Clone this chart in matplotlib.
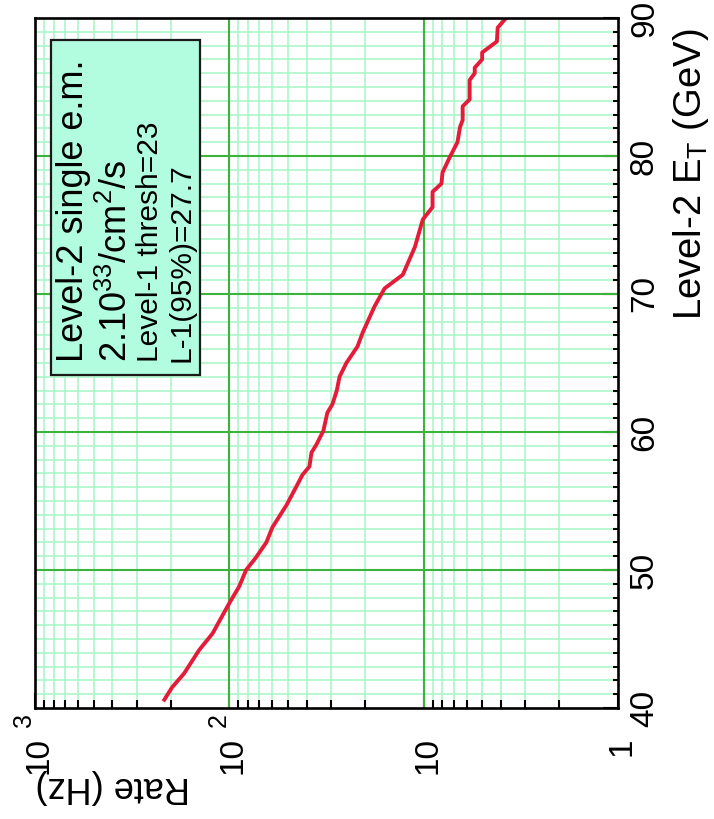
import numpy as np
import matplotlib
matplotlib.use('Agg')
import matplotlib.pyplot as plt
from matplotlib import transforms
from matplotlib.patches import Rectangle
from matplotlib.ticker import FixedLocator, LogLocator, MultipleLocator, NullFormatter

plt.rcParams['font.family'] = ['Liberation Sans', 'DejaVu Sans']
plt.rcParams['mathtext.fontset'] = 'custom'
plt.rcParams['mathtext.rm'] = 'Liberation Sans'
plt.rcParams['mathtext.it'] = 'Liberation Sans'
plt.rcParams['mathtext.default'] = 'regular'

# curve: Level-2 E_T (GeV) vs rate (Hz)
et = [40.6, 41.5, 42.5, 44.2, 45.4, 47.6, 48.8, 50.0, 50.9, 52.0, 53.1, 54.7,
      56.9, 57.5, 58.5, 59.1, 60.1, 61.4, 62.0, 63.0, 64.0, 65.0, 66.2, 67.2,
      69.1, 70.4, 71.4, 73.4, 75.4, 76.3, 77.4, 78.0, 78.8, 79.9, 81.0, 82.1,
      82.6, 83.6, 84.1, 85.5, 86.0, 86.4, 87.0, 87.5, 88.3, 89.3, 89.9]
rate = [216, 197, 171, 143, 122, 100, 89, 82, 73, 64.5, 60, 50.8,
        42, 38.7, 37.8, 35.6, 32.8, 31.3, 29.5, 28.0, 27.1, 25.0, 21.9, 20.6,
        17.9, 15.9, 12.8, 11.1, 10.1, 9.0, 9.0, 8.1, 8.0, 7.35, 6.7, 6.5,
        6.3, 6.3, 5.8, 5.8, 5.46, 5.46, 5.0, 5.0, 4.2, 4.16, 3.82]

rate_ticks = [1000, 100, 10, 1]
rate_mant = ['10', '10', '10', '1']
rate_exp = ['3', '2', '', '']
et_ticks = [40, 50, 60, 70, 80, 90]

box_lines = ['Level-2 single e.m.', '2.10$^{33}$/cm$^{2}$/s',
             'Level-1 thresh=23', 'L-1(95%)=27.7']
box_sizes = [26, 26, 21.5, 21.5]

W, H = 714, 819
fig = plt.figure(figsize=(W / 100, H / 100), dpi=100)
ax = fig.add_axes([35 / W, 1 - 708 / H, 583 / W, 690 / H])

ax.set_xscale('log')
ax.set_xlim(1000, 1)
ax.set_ylim(40, 90)
ax.xaxis.set_major_locator(FixedLocator(rate_ticks))
ax.xaxis.set_minor_locator(LogLocator(base=10, subs=range(2, 10)))
ax.xaxis.set_minor_formatter(NullFormatter())
ax.yaxis.set_major_locator(FixedLocator(et_ticks))
ax.yaxis.set_minor_locator(MultipleLocator(1))

ax.tick_params(which='both', direction='in', bottom=True, top=False,
               left=False, right=True, labelbottom=False, labelleft=False,
               labelright=False, width=1.5, color='k')
ax.tick_params(which='major', length=10.8)
ax.tick_params(axis='x', which='minor', length=5.5)
ax.tick_params(axis='y', which='minor', length=3.5)
for s in ax.spines.values():
    s.set_linewidth(1.9)
    s.set_zorder(6)

ax.set_axisbelow(True)
ax.grid(which='minor', color='#a6f5c6', lw=1.1)
for v in rate_ticks[1:-1]:
    ax.axvline(v, color='#3cb43c', lw=1.5, zorder=1.5)
for v in et_ticks[1:-1]:
    ax.axhline(v, color='#3cb43c', lw=1.5, zorder=1.5)

ax.plot(rate, et, color='#e41c3a', lw=2.8, zorder=3, solid_joinstyle='round')

# legend-like box
ax.add_patch(Rectangle((16 / 583, (708 - 375) / 690), 149 / 583, 335 / 690,
                       transform=ax.transAxes, fc='#b2fde0', ec='#1a1a1a',
                       lw=1.6, zorder=4))
base_x = [83, 127, 158, 190]
for txt, fs, bx in zip(box_lines, box_sizes, base_x):
    fig.text(bx / W, 1 - 362 / H, txt, rotation=90, rotation_mode='anchor',
             ha='left', va='baseline', fontsize=fs, zorder=7)

# rate tick labels (rotated)
tx = transforms.blended_transform_factory(ax.transData, fig.transFigure)
for v, m, e in zip(rate_ticks, rate_mant, rate_exp):
    fig.text(v, 1 - 737 / H, m, rotation=90, rotation_mode='anchor',
             ha='right', va='baseline', fontsize=24,
             transform=transforms.offset_copy(tx, fig=fig, x=12.5, y=0, units='dots'))
    if e:
        fig.text(v, 1 - 727 / H, e, rotation=90, rotation_mode='anchor',
                 ha='left', va='baseline', fontsize=18,
                 transform=transforms.offset_copy(tx, fig=fig, x=-4, y=0, units='dots'))

# E_T tick labels
ty = transforms.blended_transform_factory(fig.transFigure, ax.transData)
for v in et_ticks:
    fig.text(653 / W, v, str(v), rotation=90, rotation_mode='anchor',
             ha='center', va='baseline', fontsize=24, transform=ty)

fig.text(701 / W, 1 - 28 / H, 'Level-2 E$_T$ (GeV)', rotation=90,
         rotation_mode='anchor', ha='right', va='baseline', fontsize=27.5)
fig.text(190 / W, 1 - 777 / H, 'Rate (Hz)', rotation=180,
         rotation_mode='anchor', ha='left', va='baseline', fontsize=26)

fig.savefig('out.png', dpi=100)
